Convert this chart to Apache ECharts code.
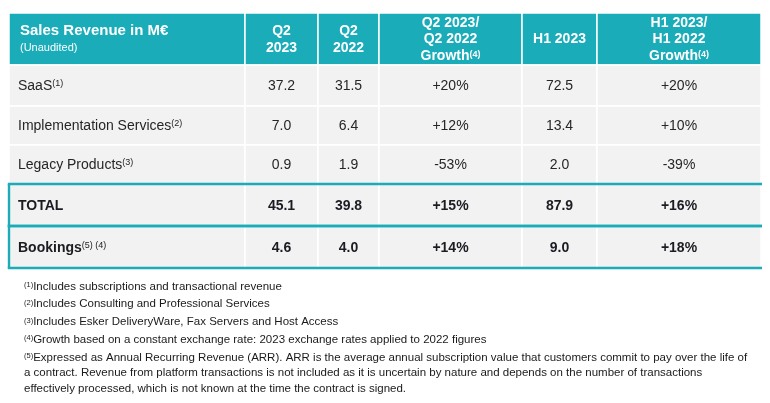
<!DOCTYPE html>
<html><head><meta charset="utf-8">
<script src="https://cdn.jsdelivr.net/npm/echarts@6/dist/echarts.min.js"></script>
<style>html,body{margin:0;padding:0;background:#fff}#c{width:770px;height:403px}</style>
</head><body><div id="c"></div>
<script>
// ---- data ----
const headerLines = [
  ['Sales Revenue in M€', '(Unaudited)'],
  ['Q2', '2023'],
  ['Q2', '2022'],
  ['Q2 2023/', 'Q2 2022', 'Growth'],
  ['H1 2023'],
  ['H1 2023/', 'H1 2022', 'Growth']
];
const headerNotes = ['', '', '', '(4)', '', '(4)'];
const rowLabels = ['SaaS', 'Implementation Services', 'Legacy Products', 'TOTAL', 'Bookings'];
const rowNotes = ['(1)', '(2)', '(3)', '', '(5) (4)'];
const q2_2023 = [37.2, 7.0, 0.9, 45.1, 4.6];
const q2_2022 = [31.5, 6.4, 1.9, 39.8, 4.0];
const q2Growth = [20, 12, -53, 15, 14];
const h1_2023 = [72.5, 13.4, 2.0, 87.9, 9.0];
const h1Growth = [20, 10, -39, 16, 18];
const footnoteNums = ['(1)', '(2)', '(3)', '(4)', '(5)'];
const footnoteTexts = [
  ['Includes subscriptions and transactional revenue'],
  ['Includes Consulting and Professional Services'],
  ['Includes Esker DeliveryWare, Fax Servers and Host Access'],
  ['Growth based on a constant exchange rate: 2023 exchange rates applied to 2022 figures'],
  ['Expressed as Annual Recurring Revenue (ARR). ARR is the average annual subscription value that customers commit to pay over the life of',
   'a contract. Revenue from platform transactions is not included as it is uncertain by nature and depends on the number of transactions',
   'effectively processed, which is not known at the time the contract is signed.']
];

// ---- layout / style ----
const W = 770, H = 403;
const colEdges = [9, 245, 318, 379, 522, 597, 761];
const rowEdges = [13, 65, 106, 145, 184, 226, 268];
const boxedRows = [4, 5];
const footTops = [279, 296.5, 314.5, 332, 350];
const TEAL = '#1aacb9', BG = '#f2f2f2', TXT = '#262626', BOLDTXT = '#1b1b22';
const FF = "'Liberation Sans', Arial, sans-serif";

const fmtNum = v => v.toFixed(1);
const fmtPct = v => (v > 0 ? '+' : '') + v + '%';

const rich = {
  h: {fontFamily: FF, fontSize: 15, fontWeight: 'bold', fill: '#fff', lineHeight: 17},
  u: {fontFamily: FF, fontSize: 11, fill: '#fff', lineHeight: 17},
  b: {fontFamily: FF, fontSize: 14, fontWeight: 'bold', fill: '#fff', lineHeight: 16.5},
  bs: {fontFamily: FF, fontSize: 9, fontWeight: 'bold', fill: '#fff', verticalAlign: 'top', lineHeight: 10, padding: [2, 0, 0, 0]},
  t: {fontFamily: FF, fontSize: 14, fill: TXT, lineHeight: 16},
  ts: {fontFamily: FF, fontSize: 9, fill: TXT, verticalAlign: 'top', lineHeight: 10, padding: [1, 0, 0, 0]},
  k: {fontFamily: FF, fontSize: 14, fontWeight: 'bold', fill: BOLDTXT, lineHeight: 16},
  ks: {fontFamily: FF, fontSize: 9, fill: BOLDTXT, verticalAlign: 'top', lineHeight: 10, padding: [1, 0, 0, 0]}
};

function cellText(c, r) {
  if (r === 0) {
    if (c === 0) return '{h|' + headerLines[0][0] + '}\n{u|' + headerLines[0][1] + '}';
    const lines = headerLines[c].map((l, i) => '{b|' + l + '}' + (i === headerLines[c].length - 1 && headerNotes[c] ? '{bs|' + headerNotes[c] + '}' : ''));
    return lines.join('\n');
  }
  const i = r - 1;
  const bold = boxedRows.indexOf(r) >= 0;
  const m = bold ? 'k' : 't', s = bold ? 'ks' : 'ts';
  let v;
  if (c === 0) return '{' + m + '|' + rowLabels[i] + '}' + (rowNotes[i] ? '{' + s + '|' + rowNotes[i] + '}' : '');
  if (c === 1) v = fmtNum(q2_2023[i]);
  if (c === 2) v = fmtNum(q2_2022[i]);
  if (c === 3) v = fmtPct(q2Growth[i]);
  if (c === 4) v = fmtNum(h1_2023[i]);
  if (c === 5) v = fmtPct(h1Growth[i]);
  return '{' + m + '|' + v + '}';
}

const cells = [];
for (let r = 0; r < rowEdges.length - 1; r++)
  for (let c = 0; c < colEdges.length - 1; c++) cells.push([c, r]);

function renderItem(params, api) {
  const c = api.value(0), r = api.value(1);
  const p0 = api.coord([colEdges[c], rowEdges[r]]);
  const p1 = api.coord([colEdges[c + 1], rowEdges[r + 1]]);
  const x = p0[0], y = p0[1], w = p1[0] - p0[0], h = p1[1] - p0[1];
  const children = [{
    type: 'rect', shape: {x, y, width: w, height: h},
    style: {fill: r === 0 ? TEAL : BG, stroke: '#fff', lineWidth: 1.5}
  }];
  const left = c === 0;
  const tx = left ? x + (r === 0 ? 11 : 9) : x + w / 2;
  const ty = y + h / 2 + (r === 0 ? 0.5 : 1);
  children.push({
    type: 'text', z2: 5,
    style: {text: cellText(c, r), rich, x: tx, y: ty, align: left ? 'left' : 'center', verticalAlign: 'middle', fontFamily: FF}
  });
  if (boxedRows.indexOf(r) >= 0) {
    const xa = c === 0 ? x - 1.2 : x, xb = c === 5 ? x + w + 1 : x + w;
    children.push({type: 'line', z2: 10, shape: {x1: xa, y1: y, x2: xb, y2: y}, style: {stroke: TEAL, lineWidth: 2.4}});
    children.push({type: 'line', z2: 10, shape: {x1: xa, y1: y + h, x2: xb, y2: y + h}, style: {stroke: TEAL, lineWidth: 2.4}});
    if (c === 0) children.push({type: 'line', z2: 10, shape: {x1: x, y1: y, x2: x, y2: y + h}, style: {stroke: TEAL, lineWidth: 2.4}});
  }
  return {type: 'group', children};
}

const graphics = footnoteTexts.map((lines, i) => ({
  type: 'text', x: 24, y: footTops[i],
  style: {
    text: '{s|' + footnoteNums[i] + '}' + lines.map(l => '{f|' + l + '}').join('\n'),
    verticalAlign: 'top', align: 'left', fontFamily: FF,
    rich: {
      f: {fontFamily: FF, fontSize: 11.5, fill: '#1a1a1a', lineHeight: 15.5},
      s: {fontFamily: FF, fontSize: 7.5, fill: '#1a1a1a', verticalAlign: 'top', lineHeight: 9, padding: [2, 0, 0, 0]}
    }
  }
}));

const chart = echarts.init(document.getElementById('c'), null, {renderer: 'canvas'});
chart.setOption({
  animation: false,
  backgroundColor: '#fff',
  grid: {left: 0, right: 0, top: 0, bottom: 0},
  xAxis: {type: 'value', min: 0, max: W, show: false},
  yAxis: {type: 'value', min: 0, max: H, inverse: true, show: false},
  series: [{type: 'custom', renderItem, data: cells, clip: false, silent: true}],
  graphic: graphics
});
</script></body></html>
